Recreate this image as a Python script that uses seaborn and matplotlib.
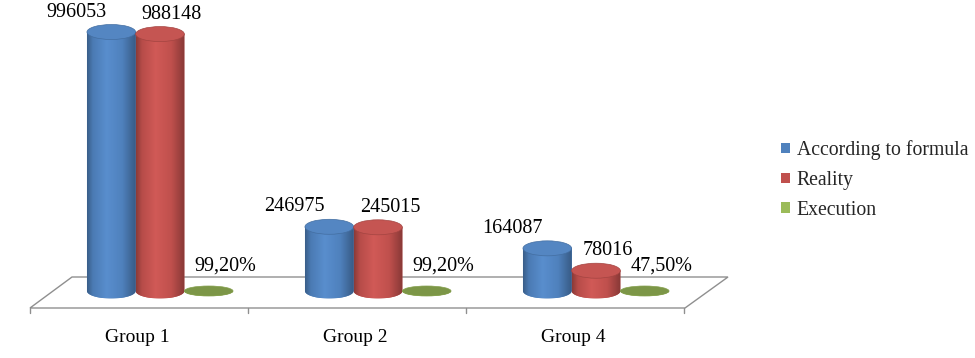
import matplotlib
matplotlib.use("Agg")
import numpy as np
import pandas as pd
import seaborn as sns
import matplotlib.pyplot as plt
from matplotlib.patches import Ellipse, Polygon, Patch
from matplotlib.lines import Line2D
from matplotlib.colors import LinearSegmentedColormap, to_rgb

# ---------------- data ----------------
categories = ["Group 1", "Group 2", "Group 4"]
series_names = ["According to formula", "Reality", "Execution"]
according_to_formula = [996053, 246975, 164087]
reality = [988148, 245015, 78016]
execution = [0.992, 0.992, 0.475]
label_formula = ["996053", "246975", "164087"]
label_reality = ["988148", "245015", "78016"]
label_execution = ["99,20%", "99,20%", "47,50%"]
colors = ["#4F81BD", "#C0504D", "#9BBB59"]

sns.set_theme(style="white")
plt.rcParams["font.family"] = ["Liberation Serif", "DejaVu Serif"]

df = pd.DataFrame({
    "group": categories * 3,
    "series": np.repeat(series_names, len(categories)),
    "value": according_to_formula + reality + execution,
})

W, H = 975, 358
fig = plt.figure(figsize=(W / 100, H / 100), dpi=100)
fig.patch.set_facecolor("white")

# axes placement (pixels)
ax_l, ax_r, ax_top, ax_bot = 51, 705, 18, 305
ymax = 1050000
px_per_unit = 273 / ymax          # 273 px from baseline (291) to top (18)
ymin = -(ax_bot - 291) / px_per_unit
ax = fig.add_axes([ax_l / W, 1 - ax_bot / H, (ax_r - ax_l) / W, (ax_bot - ax_top) / H])

sns.barplot(data=df, x="group", y="value", hue="series", order=categories,
            hue_order=series_names, palette=colors, saturation=1, width=0.67,
            gap=0, errorbar=None, legend=False, ax=ax, linewidth=0)

ax.patch.set_visible(False)
for s in ax.spines.values():
    s.set_visible(False)
ax.set_xticks([])
ax.set_yticks([])
ax.set_xlabel("")
ax.set_ylabel("")

# ---------------- floor (3D-like plane) ----------------
def fx(px):
    return px / W

def fy(py):
    return 1 - py / H

floor = Polygon([(fx(30), fy(308)), (fx(72), fy(277)), (fx(728), fy(277)), (fx(685), fy(308))],
                closed=True, fill=False, edgecolor="#8f8f8f", linewidth=1.0,
                transform=fig.transFigure, zorder=-1)
fig.add_artist(floor)

# ---------------- cylinders ----------------
labels_all = [label_formula, label_reality, label_execution]
dx_px = [-35, 12, 17]
dy_px = [20, 20, 25]
cap_px = [15, 15, 10]
unit_per_px = 1 / px_per_unit
grad = np.linspace(0, 1, 256).reshape(1, -1)

for si, cont in enumerate(ax.containers):
    base = np.array(to_rgb(colors[si]))
    dark = base * 0.72
    light = np.clip(base * 1.06 + 0.02, 0, 1)
    cmap = LinearSegmentedColormap.from_list(
        f"cyl{si}", [(0.0, dark), (0.12, base * 0.95), (0.4, light), (0.72, base),
                     (1.0, base * 0.70)], N=256)
    eh = cap_px[si] * unit_per_px
    for bi, bar in enumerate(cont):
        x0, w, h = bar.get_x(), bar.get_width(), bar.get_height()
        cx = x0 + w / 2
        t = np.linspace(np.pi, 2 * np.pi, 80)
        pts = [(x0, h)] + [(cx + w / 2 * np.cos(a), eh / 2 * np.sin(a)) for a in t] + [(x0 + w, h)]
        body = Polygon(pts, closed=True, facecolor=base, edgecolor="none", zorder=2)
        ax.add_patch(body)
        im = ax.imshow(grad, extent=[x0, x0 + w, -eh / 2, max(h, 1)], aspect="auto",
                       cmap=cmap, zorder=2.1, interpolation="bilinear")
        im.set_clip_path(body)
        if si == 2:
            capc = base * 0.80
        else:
            capc = np.clip(base * 1.0 + 0.02, 0, 1)
        top = Ellipse((cx, h), w, eh, facecolor=capc, edgecolor=tuple(base * 0.85),
                      linewidth=0.5, zorder=3)
        ax.add_patch(top)
        ax.annotate(labels_all[si][bi], xy=(cx, h), xytext=(dx_px[si], dy_px[si]),
                    textcoords="offset pixels", ha="center", va="center",
                    fontsize=14.5, color="black", zorder=5)

ax.set_xlim(-0.5, len(categories) - 0.5)
ax.set_ylim(ymin, ymax)

# ---------------- category axis (front edge of floor) ----------------
for i in range(len(categories) + 1):
    xpx = ax.transData.transform((i - 0.5, 0))[0] - 21
    fig.add_artist(Line2D([xpx / W, xpx / W], [fy(308), fy(313)], color="#8f8f8f",
                          linewidth=1.0, transform=fig.transFigure))
for i, cat in enumerate(categories):
    ax.annotate(cat, xy=(i, 0), xycoords=("data", "axes fraction"), xytext=(-23, -32),
                textcoords="offset pixels", ha="center", va="center", fontsize=14,
                color="black")

# ---------------- legend ----------------
handles = [Patch(facecolor=c, edgecolor="none") for c in colors]
fig.legend(handles, series_names, loc="center left",
           bbox_to_anchor=(781 / W, 1 - 180 / H), frameon=False, fontsize=14.2,
           handlelength=0.45, handleheight=0.45, handletextpad=0.35,
           labelspacing=0.55, borderpad=0, borderaxespad=0)

fig.savefig("out.png", dpi=100, facecolor="white")
